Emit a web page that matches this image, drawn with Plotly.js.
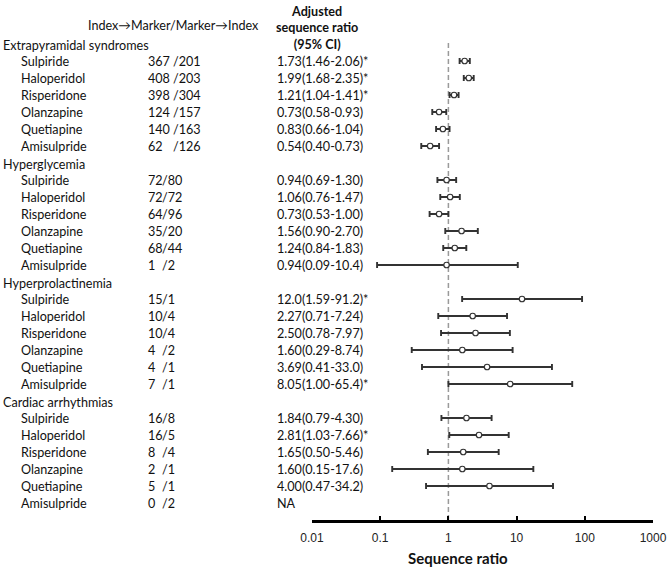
<!DOCTYPE html>
<html>
<head>
<meta charset="utf-8">
<script src="https://cdn.plot.ly/plotly-3.0.1.min.js"></script>
<style>html,body{margin:0;padding:0;background:#fff;}#chart{width:670px;height:579px;}</style>
</head>
<body>
<div id="chart"></div>
<script>
// ---------- data ----------
const categories = ['Extrapyramidal syndromes', 'Hyperglycemia', 'Hyperprolactinemia', 'Cardiac arrhythmias'];
const drugs = ['Sulpiride', 'Haloperidol', 'Risperidone', 'Olanzapine', 'Quetiapine', 'Amisulpride'];
const indexToMarker = [
  [367, 408, 398, 124, 140, 62],
  [72, 72, 64, 35, 68, 1],
  [15, 10, 10, 4, 4, 7],
  [16, 16, 8, 2, 5, 0]
];
const markerToIndex = [
  [201, 203, 304, 157, 163, 126],
  [80, 72, 96, 20, 44, 2],
  [1, 4, 4, 2, 1, 1],
  [8, 5, 4, 1, 1, 2]
];
const ratio = [
  [1.73, 1.99, 1.21, 0.73, 0.83, 0.54],
  [0.94, 1.06, 0.73, 1.56, 1.24, 0.94],
  [12.0, 2.27, 2.50, 1.60, 3.69, 8.05],
  [1.84, 2.81, 1.65, 1.60, 4.00, null]
];
const lower = [
  [1.46, 1.68, 1.04, 0.58, 0.66, 0.40],
  [0.69, 0.76, 0.53, 0.90, 0.84, 0.09],
  [1.59, 0.71, 0.78, 0.29, 0.41, 1.00],
  [0.79, 1.03, 0.50, 0.15, 0.47, null]
];
const upper = [
  [2.06, 2.35, 1.41, 0.93, 1.04, 0.73],
  [1.30, 1.47, 1.00, 2.70, 1.83, 10.4],
  [91.2, 7.24, 7.97, 8.74, 33.0, 65.4],
  [4.30, 7.66, 5.46, 17.6, 34.2, null]
];
const significant = [
  [true, true, true, false, false, false],
  [false, false, false, false, false, false],
  [true, false, false, false, false, true],
  [false, true, false, false, false, false]
];
const tickVals = [0.01, 0.1, 1, 10, 100, 1000];
const tickText = ['0.01', '0.1', '1', '10', '100', '1000'];
const colHeaderCounts = 'Index\u2192Marker/Marker\u2192Index';
const colHeaderRatio = 'Adjusted<br>sequence ratio<br>(95% CI)';
const xTitle = 'Sequence ratio';

// ---------- layout geometry ----------
const W = 670, H = 579;
const M = {l: 312, r: 17, t: 43, b: 59};
const plotW = W - M.l - M.r;
const plotH = H - M.t - M.b;
const px2paper = px => (px - M.l) / plotW;
const py2paper = py => (H - M.b - py) / plotH;
const rowsPerGroup = 7;
const TXT_FONT = 'Lato, "Open Sans", sans-serif';
const TXT_SIZE = 12.6;
const txtColor = '#111';
const slashX = [173, 162, 162, 162];
const PAD = -2; // compensate annotation padding

function fmt(v) { return v >= 10 ? v.toFixed(1) : v.toFixed(2); }

const xs = [], ys = [], ePlus = [], eMinus = [];
const annotations = [];
function txt(px, row, text, extra) {
  annotations.push(Object.assign({x: px2paper(px + PAD), xref: 'paper', y: row, yref: 'y', text: text,
    xanchor: 'left', yanchor: 'middle', showarrow: false,
    font: {family: TXT_FONT, size: TXT_SIZE, color: txtColor}}, extra || {}));
}

categories.forEach((cat, g) => {
  const headerRow = g * rowsPerGroup - 1;
  txt(3, headerRow, cat, {yshift: -1});
  drugs.forEach((d, i) => {
    const row = g * rowsPerGroup + i;
    txt(21, row, d);
    txt(148, row, String(indexToMarker[g][i]));
    txt(slashX[g], row, '/' + markerToIndex[g][i]);
    const r = ratio[g][i];
    const label = r == null ? 'NA' :
      fmt(r) + '(' + fmt(lower[g][i]) + '-' + fmt(upper[g][i]) + ')' + (significant[g][i] ? '*' : '');
    txt(277, row, label);
    if (r != null) {
      xs.push(r); ys.push(row);
      ePlus.push(upper[g][i] - r);
      eMinus.push(r - lower[g][i]);
    }
  });
});

annotations.push({x: px2paper(173), xref: 'paper', y: py2paper(26), yref: 'paper', text: colHeaderCounts,
  xanchor: 'center', yanchor: 'middle', showarrow: false,
  font: {family: TXT_FONT, size: TXT_SIZE, color: txtColor}});
annotations.push({x: px2paper(317), xref: 'paper', y: py2paper(28), yref: 'paper', text: '<b>' + colHeaderRatio + '</b>',
  xanchor: 'center', yanchor: 'middle', showarrow: false,
  font: {family: TXT_FONT, size: TXT_SIZE, color: txtColor}});
annotations.push({x: px2paper(457.5), xref: 'paper', y: py2paper(557.5), yref: 'paper', text: '<b>' + xTitle + '</b>',
  xanchor: 'center', yanchor: 'middle', showarrow: false,
  font: {family: TXT_FONT, size: 15, color: '#111'}});

const trace = {
  type: 'scatter', mode: 'markers', x: xs, y: ys,
  marker: {symbol: 'circle', size: 5.5, color: '#fff', line: {color: '#333', width: 1.2}},
  error_x: {type: 'data', symmetric: false, array: ePlus, arrayminus: eMinus,
    color: '#333', thickness: 1.9, width: 3},
  hoverinfo: 'skip', showlegend: false, cliponaxis: false
};

const layout = {
  width: W, height: H, autosize: false,
  margin: M,
  paper_bgcolor: '#fff', plot_bgcolor: '#fff',
  showlegend: false,
  xaxis: {
    type: 'log', range: [-2, 3], tickvals: tickVals, ticktext: tickText,
    showgrid: false, zeroline: false, showline: true, linecolor: '#000', linewidth: 2.5,
    ticks: 'inside', ticklen: 4, tickwidth: 2, tickcolor: '#000', ticklabelstandoff: 5,
    tickfont: {family: '"Liberation Sans", Arial, sans-serif', size: 12, color: '#222'},
    fixedrange: true
  },
  yaxis: {
    range: [27, -1.0588], visible: false, showgrid: false, zeroline: false, fixedrange: true
  },
  shapes: [{
    type: 'line', xref: 'x', yref: 'paper', x0: 1, x1: 1, y0: 0, y1: 1,
    line: {color: '#9a9a9a', width: 1.5, dash: '5px,3px'}, layer: 'below'
  }],
  annotations: annotations
};

Plotly.newPlot('chart', [trace], layout, {staticPlot: true, displayModeBar: false});
</script>
</body>
</html>
